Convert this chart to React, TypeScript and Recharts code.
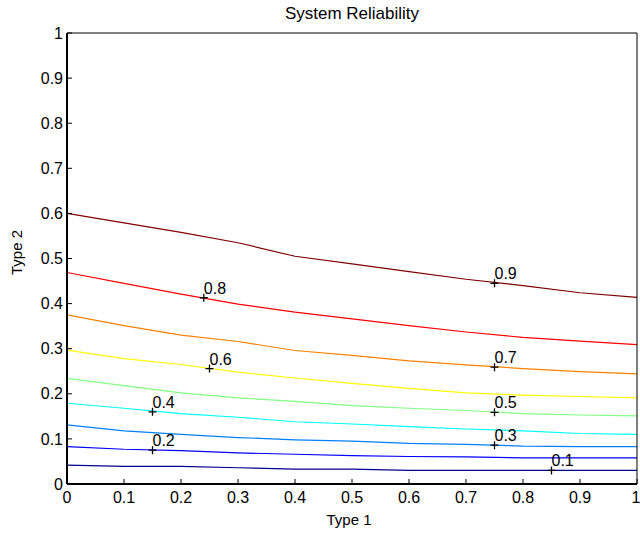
import {
  ComposedChart,
  Line,
  Scatter,
  XAxis,
  YAxis,
} from "recharts";

const gridX = [0, 0.1, 0.2, 0.3, 0.4, 0.5, 0.6, 0.7, 0.8, 0.9, 1];
const tickValues = [0, 0.1, 0.2, 0.3, 0.4, 0.5, 0.6, 0.7, 0.8, 0.9, 1];

const levelNames = ["0.1", "0.2", "0.3", "0.4", "0.5", "0.6", "0.7", "0.8", "0.9"];
const levelColors = [
  "#00008f",
  "#0000ff",
  "#0080ff",
  "#00ffff",
  "#80ff80",
  "#ffff00",
  "#ff8000",
  "#ff0000",
  "#800000",
];

const level01 = [0.042, 0.039, 0.039, 0.036, 0.033, 0.033, 0.03, 0.03, 0.03, 0.03, 0.03];
const level02 = [0.083, 0.077, 0.074, 0.069, 0.066, 0.063, 0.061, 0.06, 0.058, 0.058, 0.058];
const level03 = [0.131, 0.118, 0.11, 0.103, 0.098, 0.095, 0.09, 0.088, 0.084, 0.083, 0.083];
const level04 = [0.179, 0.168, 0.156, 0.148, 0.138, 0.133, 0.127, 0.122, 0.118, 0.112, 0.11];
const level05 = [0.234, 0.218, 0.202, 0.191, 0.183, 0.174, 0.168, 0.163, 0.156, 0.153, 0.151];
const level06 = [0.297, 0.278, 0.265, 0.248, 0.235, 0.223, 0.212, 0.202, 0.197, 0.194, 0.191];
const level07 = [0.375, 0.351, 0.33, 0.316, 0.296, 0.285, 0.273, 0.264, 0.256, 0.249, 0.244];
const level08 = [0.469, 0.445, 0.421, 0.399, 0.381, 0.366, 0.351, 0.337, 0.325, 0.317, 0.309];
const level09 = [0.6, 0.579, 0.558, 0.535, 0.505, 0.488, 0.471, 0.454, 0.44, 0.424, 0.414];

const levelValues = [level01, level02, level03, level04, level05, level06, level07, level08, level09];

// where the contour labels sit
const labelX = [0.85, 0.15, 0.75, 0.15, 0.75, 0.25, 0.75, 0.24, 0.75];
const labelY = [0.03, 0.075, 0.086, 0.16, 0.159, 0.256, 0.259, 0.413, 0.445];

const FONT = "'Liberation Sans', Arial, Helvetica, sans-serif";

const series = levelValues.map((ys) => gridX.map((x, i) => ({ x, y: ys[i] })));
const labelPoints = levelNames.map((name, i) => ({ x: labelX[i], y: labelY[i], label: name }));

function ContourLabel(props: any) {
  const { cx, cy, payload } = props;
  if (cx == null || cy == null) return null;
  return (
    <g>
      <path
        d={`M${cx - 4},${cy}h8M${cx},${cy - 4}v8`}
        stroke="#000"
        strokeWidth={1.3}
        fill="none"
      />
      <text x={cx} y={cy - 4} fontSize={16} fill="#000" fontFamily={FONT}>
        {payload.label}
      </text>
    </g>
  );
}

const blank = () => "";

export default function App() {
  return (
    <div style={{ position: "absolute", left: 0, top: 0, background: "#fff" }}>
      <ComposedChart
        width={640}
        height={533}
        margin={{ top: 32, right: 2, bottom: 0, left: 17 }}
        style={{ fontFamily: FONT }}
      >
        <XAxis
          dataKey="x"
          type="number"
          domain={[0, 1]}
          ticks={tickValues}
          allowDataOverflow
          height={49}
          tickSize={-5}
          tickMargin={13}
          tick={{ fill: "#000", fontSize: 16 }}
          tickLine={{ stroke: "#000" }}
          axisLine={{ stroke: "#000", strokeWidth: 2 }}
          label={{
            value: "Type 1",
            position: "insideBottom",
            offset: 8,
            dx: -3,
            fill: "#000",
            fontSize: 15,
          }}
        />
        <XAxis
          xAxisId="t"
          orientation="top"
          dataKey="x"
          type="number"
          domain={[0, 1]}
          ticks={tickValues}
          height={1}
          tickSize={-5}
          tickFormatter={blank}
          tickLine={{ stroke: "#000" }}
          axisLine={{ stroke: "#000" }}
          label={{
            value: "System Reliability",
            position: "top",
            offset: 13,
            fill: "#000",
            fontSize: 17,
          }}
        />
        <YAxis
          dataKey="y"
          type="number"
          domain={[0, 1]}
          ticks={tickValues}
          allowDataOverflow
          width={50}
          tickSize={-5}
          tickMargin={9}
          tick={{ fill: "#000", fontSize: 16 }}
          tickLine={{ stroke: "#000" }}
          axisLine={{ stroke: "#000", strokeWidth: 2 }}
          label={{
            value: "Type 2",
            angle: -90,
            position: "center",
            dx: -25,
            dy: -6,
            fill: "#000",
            fontSize: 15,
          }}
        />
        <YAxis
          yAxisId="r"
          orientation="right"
          type="number"
          domain={[0, 1]}
          ticks={tickValues}
          width={1}
          tickSize={-5}
          tickFormatter={blank}
          tickLine={{ stroke: "#000" }}
          axisLine={{ stroke: "#000" }}
        />
        {series.map((data, i) => (
          <Line
            key={levelNames[i]}
            data={data}
            dataKey="y"
            type="linear"
            stroke={levelColors[i]}
            strokeWidth={1.2}
            dot={false}
            isAnimationActive={false}
          />
        ))}
        <Scatter
          data={labelPoints}
          dataKey="y"
          shape={ContourLabel}
          isAnimationActive={false}
        />
      </ComposedChart>
    </div>
  );
}
